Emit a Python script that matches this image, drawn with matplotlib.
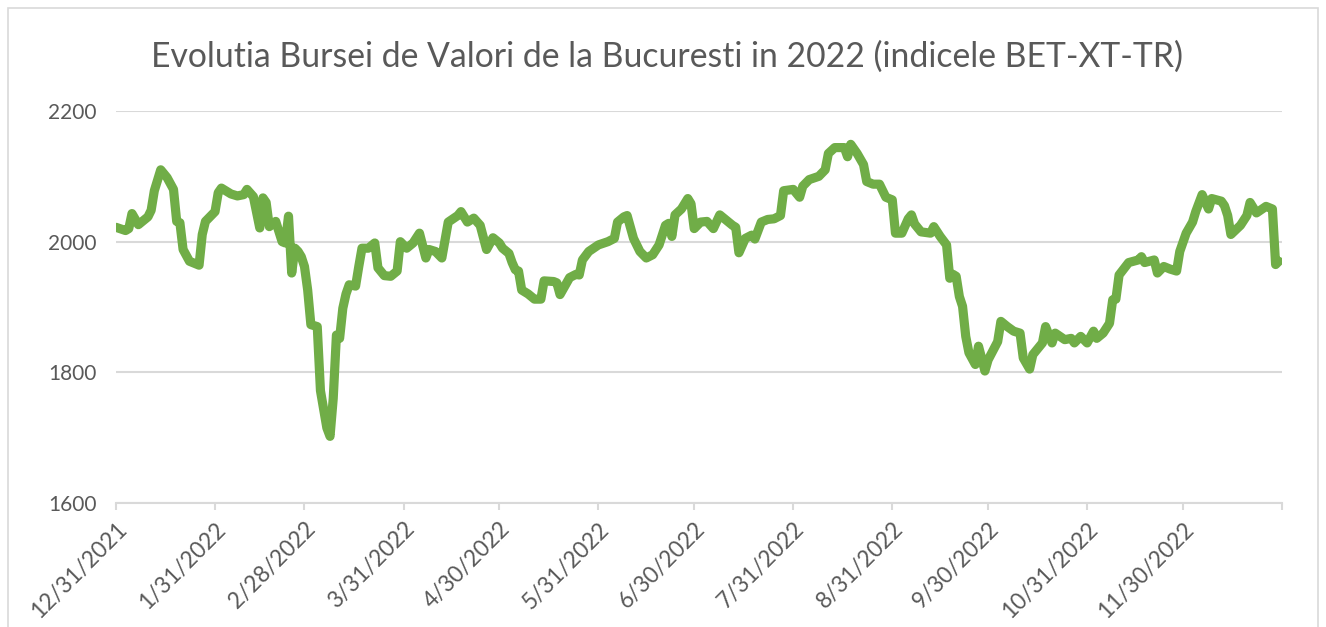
import matplotlib
matplotlib.use("Agg")
import matplotlib.pyplot as plt
from matplotlib.patches import Rectangle
import pandas as pd

plt.rcParams['font.family'] = ['Lato', 'DejaVu Sans']

# BET-XT-TR closing values
dates = [
    "2021-12-31", "2022-01-03", "2022-01-04", "2022-01-05", "2022-01-07", "2022-01-10",
    "2022-01-11", "2022-01-12", "2022-01-14", "2022-01-16", "2022-01-18", "2022-01-19",
    "2022-01-20", "2022-01-21", "2022-01-23", "2022-01-26", "2022-01-27", "2022-01-28",
    "2022-01-29", "2022-01-31", "2022-02-01", "2022-02-02", "2022-02-05", "2022-02-07",
    "2022-02-09", "2022-02-10", "2022-02-12", "2022-02-14", "2022-02-15", "2022-02-16",
    "2022-02-17", "2022-02-19", "2022-02-21", "2022-02-22", "2022-02-23", "2022-02-24",
    "2022-02-25", "2022-02-26", "2022-02-27", "2022-02-28", "2022-03-01", "2022-03-02",
    "2022-03-04", "2022-03-05", "2022-03-07", "2022-03-08", "2022-03-09", "2022-03-10",
    "2022-03-11", "2022-03-12", "2022-03-13", "2022-03-14", "2022-03-16", "2022-03-17",
    "2022-03-18", "2022-03-20", "2022-03-22", "2022-03-23", "2022-03-25", "2022-03-27",
    "2022-03-29", "2022-03-30", "2022-04-01", "2022-04-03", "2022-04-05", "2022-04-07",
    "2022-04-08", "2022-04-10", "2022-04-12", "2022-04-14", "2022-04-17", "2022-04-18",
    "2022-04-20", "2022-04-22", "2022-04-24", "2022-04-26", "2022-04-28", "2022-04-30",
    "2022-05-01", "2022-05-03", "2022-05-04", "2022-05-05", "2022-05-06", "2022-05-07",
    "2022-05-09", "2022-05-11", "2022-05-13", "2022-05-14", "2022-05-17", "2022-05-18",
    "2022-05-19", "2022-05-22", "2022-05-24", "2022-05-25", "2022-05-26", "2022-05-28",
    "2022-05-31", "2022-06-03", "2022-06-05", "2022-06-06", "2022-06-08", "2022-06-09",
    "2022-06-11", "2022-06-13", "2022-06-15", "2022-06-17", "2022-06-19", "2022-06-21",
    "2022-06-22", "2022-06-23", "2022-06-24", "2022-06-26", "2022-06-28", "2022-06-29",
    "2022-06-30", "2022-07-02", "2022-07-04", "2022-07-06", "2022-07-08", "2022-07-10",
    "2022-07-12", "2022-07-13", "2022-07-14", "2022-07-16", "2022-07-18", "2022-07-19",
    "2022-07-21", "2022-07-23", "2022-07-25", "2022-07-27", "2022-07-28", "2022-07-31",
    "2022-08-02", "2022-08-03", "2022-08-05", "2022-08-08", "2022-08-10", "2022-08-11",
    "2022-08-13", "2022-08-16", "2022-08-17", "2022-08-18", "2022-08-20", "2022-08-22",
    "2022-08-23", "2022-08-25", "2022-08-27", "2022-08-29", "2022-08-31", "2022-09-01",
    "2022-09-03", "2022-09-05", "2022-09-06", "2022-09-07", "2022-09-09", "2022-09-12",
    "2022-09-13", "2022-09-15", "2022-09-17", "2022-09-18", "2022-09-19", "2022-09-20",
    "2022-09-21", "2022-09-22", "2022-09-23", "2022-09-24", "2022-09-26", "2022-09-27",
    "2022-09-29", "2022-09-30", "2022-10-03", "2022-10-04", "2022-10-06", "2022-10-08",
    "2022-10-10", "2022-10-11", "2022-10-13", "2022-10-14", "2022-10-17", "2022-10-18",
    "2022-10-20", "2022-10-21", "2022-10-24", "2022-10-26", "2022-10-27", "2022-10-29",
    "2022-10-31", "2022-11-02", "2022-11-03", "2022-11-05", "2022-11-07", "2022-11-08",
    "2022-11-09", "2022-11-10", "2022-11-13", "2022-11-16", "2022-11-17", "2022-11-18",
    "2022-11-21", "2022-11-22", "2022-11-24", "2022-11-26", "2022-11-28", "2022-11-29",
    "2022-12-01", "2022-12-03", "2022-12-04", "2022-12-06", "2022-12-08", "2022-12-09",
    "2022-12-12", "2022-12-13", "2022-12-14", "2022-12-15", "2022-12-18", "2022-12-20",
    "2022-12-21", "2022-12-23", "2022-12-26", "2022-12-27", "2022-12-28", "2022-12-29",
    "2022-12-30",
]
values = [
    2022, 2017, 2020, 2043, 2026, 2038,
    2048, 2078, 2110, 2098, 2080, 2031,
    2029, 1988, 1970, 1964, 2011, 2031,
    2036, 2046, 2075, 2082, 2073, 2070,
    2072, 2080, 2069, 2021, 2067, 2060,
    2023, 2031, 2000, 1998, 2039, 1952,
    1990, 1985, 1977, 1962, 1926, 1873,
    1870, 1772, 1715, 1702, 1760, 1857,
    1852, 1898, 1920, 1934, 1932, 1962,
    1990, 1990, 1998, 1960, 1948, 1947,
    1955, 2000, 1990, 1998, 2013, 1975,
    1988, 1985, 1975, 2030, 2040, 2046,
    2030, 2036, 2025, 1988, 2006, 1998,
    1990, 1982, 1968, 1957, 1955, 1926,
    1920, 1912, 1912, 1940, 1939, 1937,
    1919, 1945, 1950, 1949, 1972, 1985,
    1995, 2000, 2005, 2030, 2038, 2040,
    2005, 1985, 1975, 1980, 1995, 2025,
    2028, 2008, 2041, 2050, 2066, 2058,
    2020, 2030, 2031, 2020, 2041, 2033,
    2025, 2022, 1983, 2005, 2010, 2004,
    2030, 2034, 2035, 2040, 2078, 2080,
    2068, 2085, 2095, 2100, 2110, 2135,
    2144, 2144, 2130, 2149, 2135, 2118,
    2092, 2088, 2088, 2068, 2064, 2013,
    2013, 2035, 2041, 2027, 2015, 2013,
    2023, 2008, 1995, 1944, 1950, 1947,
    1916, 1901, 1855, 1830, 1812, 1840,
    1802, 1819, 1847, 1878, 1870, 1863,
    1860, 1822, 1805, 1827, 1845, 1870,
    1845, 1860, 1850, 1852, 1845, 1855,
    1845, 1863, 1852, 1860, 1875, 1911,
    1912, 1949, 1968, 1972, 1977, 1968,
    1972, 1952, 1962, 1958, 1955, 1985,
    2013, 2030, 2046, 2072, 2050, 2066,
    2062, 2055, 2040, 2011, 2025, 2040,
    2060, 2044, 2054, 2052, 2050, 1965,
    1970,
]

tick_dates = ["2021-12-31", "2022-01-31", "2022-02-28", "2022-03-31", "2022-04-30",
              "2022-05-31", "2022-06-30", "2022-07-31", "2022-08-31", "2022-09-30",
              "2022-10-31", "2022-11-30", "2022-12-31"]
tick_labels = ["12/31/2021", "1/31/2022", "2/28/2022", "3/31/2022", "4/30/2022",
               "5/31/2022", "6/30/2022", "7/31/2022", "8/31/2022", "9/30/2022",
               "10/31/2022", "11/30/2022", ""]
y_ticks = [1600, 1800, 2000, 2200]

title = "Evolutia Bursei de Valori de la Bucuresti in 2022 (indicele BET-XT-TR)"

green = "#70AD47"
grid_c = "#D9D9D9"
text_c = "#595959"

x = pd.to_datetime(dates)
xt = pd.to_datetime(tick_dates)

fig = plt.figure(figsize=(13.26, 6.27), dpi=100)
ax = fig.add_axes([116 / 1326, 1 - 503 / 627, 1166 / 1326, 392 / 627])

ax.plot(x, values, color=green, lw=6.6, solid_capstyle='round', solid_joinstyle='round', zorder=3)

ax.set_xlim(xt[0], xt[-1])
ax.set_ylim(1600, 2200)
ax.set_yticks(y_ticks)
ax.set_xticks(xt)
ax.set_xticklabels(tick_labels, rotation=45, ha='right', va='top', rotation_mode='anchor')

ax.grid(axis='y', color=grid_c, lw=1.5, zorder=0)
for s in ['left', 'right', 'top']:
    ax.spines[s].set_visible(False)
ax.spines['bottom'].set_color(grid_c)
ax.spines['bottom'].set_linewidth(1.5)
ax.tick_params(axis='y', length=0, pad=14, labelsize=15, labelcolor=text_c)
ax.tick_params(axis='x', length=5, width=1.5, color=grid_c, pad=6, labelsize=16.3, labelcolor=text_c)

fig.text(667 / 1326, 1 - 57 / 627, title, ha='center', va='center', fontsize=24.3, color=text_c)

# chart area border
fig.patches.append(Rectangle((8 / 1326, -0.01), 1310 / 1326, 1 - 8 / 627 + 0.01, transform=fig.transFigure,
                             fill=False, edgecolor=grid_c, lw=1.2))

fig.savefig("out.png", dpi=100)
